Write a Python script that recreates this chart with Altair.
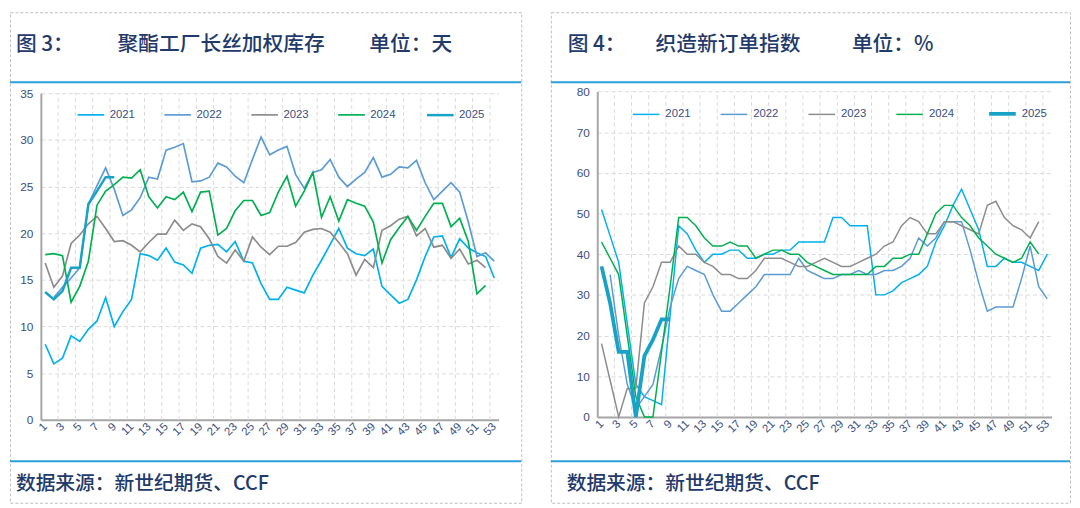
import altair as alt
import pandas as pd

weeks = list(range(1, 54))
years = ["2021", "2022", "2023", "2024", "2025"]
x_labels = list(range(1, 54, 2))

# 图3 聚酯工厂长丝加权库存（天）
inv_2021 = [8.1, 6.0, 6.6, 9.0, 8.4, 9.7, 10.6, 13.1, 10.0, 11.6,
            12.9, 17.8, 17.6, 17.1, 18.4, 16.9, 16.6, 15.7, 18.4, 18.7,
            18.8, 18.0, 19.1, 17.0, 16.8, 14.6, 12.9, 12.9, 14.2, 13.9,
            13.6, 15.5, 17.1, 18.8, 20.5, 18.4, 17.8, 17.6, 18.3, 14.3,
            13.4, 12.5, 12.9, 15.0, 17.5, 19.6, 19.7, 17.4, 19.4, 18.4,
            17.9, 17.5, 15.2]
inv_2022 = [None, 13.1, 14.2, 15.2, 16.3, 23.1, 25.1, 27.0, 24.7, 21.9,
            22.5, 23.8, 26.0, 25.8, 28.9, 29.2, 29.6, 25.5, 25.6, 26.0,
            27.5, 27.1, 26.1, 25.4, 27.9, 30.3, 28.4, 28.9, 29.3, 26.3,
            24.8, 26.5, 26.8, 27.9, 26.0, 25.0, 25.8, 26.5, 28.1, 26.0,
            26.3, 27.1, 27.0, 27.8, 25.4, 23.6, 24.5, 25.4, 24.4, 21.2,
            17.5, 17.9, 17.0]
inv_2023 = [16.8, 14.2, 15.4, 18.9, 19.8, 21.0, 21.8, 20.5, 19.1, 19.2,
            18.7, 18.0, 19.0, 19.9, 19.9, 21.4, 20.3, 21.0, 20.7, 19.4,
            17.5, 16.8, 18.2, 17.0, 19.6, 18.5, 17.7, 18.6, 18.6, 19.0,
            20.1, 20.4, 20.5, 20.1, 19.0, 17.8, 15.5, 17.2, 16.3, 20.3,
            20.8, 21.5, 21.8, 19.7, 20.5, 18.5, 18.7, 17.3, 18.3, 16.7,
            17.1, 16.3, None]
inv_2024 = [17.7, 17.8, 17.6, 12.6, 14.3, 17.0, 23.0, 24.5, 25.2, 26.0,
            25.9, 26.8, 23.9, 22.7, 23.9, 23.6, 24.4, 22.3, 24.4, 24.5,
            19.8, 20.5, 22.4, 23.5, 23.5, 21.9, 22.2, 24.4, 26.1, 22.9,
            24.5, 26.5, 21.7, 23.9, 21.3, 23.6, 23.2, 22.9, 21.2, 16.8,
            19.3, 20.6, 21.8, 20.3, 21.8, 23.2, 23.2, 20.7, 21.6, 19.1,
            13.5, 14.4, None]
inv_2025 = [13.7, 12.9, 13.8, 16.3, 16.3, 23.1, 24.5, 26.0, 26.0] + [None] * 44

# 图4 织造新订单指数（%）
ord_2021 = [51, 44.5, 38, 23, 8, 5, 4, 3, 25, 47,
            45, 41, 38, 40, 40, 41, 41, 39, 39, 40,
            40, 41, 41, 43, 43, 43, 43, 49, 49, 47,
            47, 47, 30, 30, 31, 33, 34, 35, 37, 43,
            47, 52, 56, 51, 46, 37, 37, 39, 38, 38,
            37, 36, 40]
ord_2022 = [None, 35, 20, 8, 2, 5, 8, 17, 27, 34,
            37, 36, 35, 30, 26, 26, 28, 30, 32, 35,
            35, 35, 35, 39, 36, 35, 34, 34, 35, 35,
            36, 35, 35, 36, 36, 37, 39, 44, 42, 44,
            48, 48, 48, 41, 33, 26, 27, 27, 27, 34,
            42, 32, 29]
ord_2023 = [18, 9, 0, 7, 7, 28, 32, 38, 38, 42,
            40, 40, 38, 37, 35, 35, 34, 34, 36, 39,
            39, 39, 38, 37, 37, 38, 39, 38, 37, 37,
            38, 39, 40, 42, 43, 47, 49, 48, 45, 45,
            48, 48, 47, 46, 45, 52, 53, 49, 47, 46,
            44, 48, None]
ord_2024 = [43, 39, 35, 20, 5, 0, 0, 16, 32, 49,
            49, 47, 44, 42, 42, 43, 42, 42, 39, 40,
            41, 41, 40, 40, 38, 37, 36, 35, 35, 35,
            35, 35, 37, 37, 39, 39, 40, 40, 45, 50,
            52, 52, 49, 47, 44, 42, 40, 39, 38, 39,
            43, 40, None]
ord_2025 = [37, 28, 16, 16, 0, 15, 19, 24, 24] + [None] * 44

inv_ticks = [0, 5, 10, 15, 20, 25, 30, 35]
ord_ticks = [0, 10, 20, 30, 40, 50, 60, 70, 80]

left_titles = ["图 3：", "聚酯工厂长丝加权库存", "单位：天"]
right_titles = ["图 4：", "织造新订单指数", "单位：%"]
source_text = "数据来源：新世纪期货、CCF"

colors = ["#00B0F0", "#5B9BD5", "#8C8C8C", "#00B050", "#17A2C6"]
NAVY = "#1F3A6B"
LABEL = "#3A4F80"
BLUE = "#2A9FD8"
CJK = "Noto Sans CJK SC"
NUM = "Liberation Sans Narrow, Liberation Sans, Arial"


def long_df(series):
    rows = []
    for yr, vals in zip(years, series):
        for w, v in zip(weeks, vals):
            if v is not None:
                rows.append({"week": w, "year": yr, "value": v})
    return pd.DataFrame(rows)


def panel(series, ymax, yticks, W, H, px0, px1, ptop, pbot, widths,
          leg_x, leg_y, col_pad, titles, title_xs, foot_x):
    df = long_df(series)
    xs = alt.Scale(domain=[0.5, 53.5], range=[px0, px1], nice=False, zero=False)
    ys = alt.Scale(domain=[0, ymax], range=[pbot, ptop], nice=False, zero=True)
    x_axis = alt.Axis(
        values=x_labels, labelAngle=315, labelAlign="right",
        labelBaseline="middle", grid=False, ticks=False,
        domainColor="#A6A6A6", domainWidth=2, labelColor=LABEL,
        labelFont=NUM, labelFontSize=11.5, labelPadding=5,
        labelOverlap=False, labelBound=False, offset=-(H - pbot), title=None)
    y_axis = alt.Axis(
        values=yticks, grid=True, gridDash=[4, 3], gridColor="#D9D9D9",
        ticks=False, domainColor="#A6A6A6", domainWidth=2,
        labelColor=LABEL, labelFont=NUM, labelFontSize=12,
        labelPadding=8, offset=-px0, title=None)
    grid_df = pd.DataFrame({"g": [w + 0.5 for w in weeks if w % 2 == 0],
                            "lo": 0, "hi": ymax})
    vgrid = alt.Chart(grid_df).mark_rule(
        color="#D9D9D9", strokeDash=[4, 3], strokeWidth=1
    ).encode(
        x=alt.X("g:Q", scale=xs, axis=x_axis),
        y=alt.Y("lo:Q", scale=ys, axis=y_axis),
        y2="hi:Q",
    )
    leg = alt.Legend(
        title=None, orient="none", legendX=leg_x, legendY=leg_y,
        direction="horizontal", columns=5, symbolType="stroke",
        symbolSize=729, labelFontSize=11.5, labelColor=LABEL, labelFont=NUM,
        labelOffset=4, columnPadding=col_pad, padding=0,
    )
    lines = alt.Chart(df).mark_line().encode(
        x=alt.X("week:Q", scale=xs, axis=x_axis),
        y=alt.Y("value:Q", scale=ys, axis=y_axis),
        color=alt.Color("year:N", scale=alt.Scale(type="ordinal", domain=years, range=colors), legend=leg),
        strokeWidth=alt.StrokeWidth("year:N", scale=alt.Scale(type="ordinal", domain=years, range=widths), legend=leg),
    )
    one = pd.DataFrame({"k": [0]})
    deco = []
    for s, tx in zip(titles, title_xs):
        deco.append(alt.Chart(one).mark_text(
            text=s, align="left", baseline="middle", fontSize=21, fontWeight=500,
            color=NAVY, font=CJK).encode(x=alt.value(tx), y=alt.value(33)))
    deco.append(alt.Chart(one).mark_text(
        text=source_text, align="left", baseline="middle", fontSize=20, fontWeight=500,
        color=NAVY, font=CJK).encode(x=alt.value(foot_x), y=alt.value(478)))
    for yy in (71, 455):
        deco.append(alt.Chart(one).mark_rule(color=BLUE, strokeWidth=2).encode(
            x=alt.value(0), x2=alt.value(W), y=alt.value(yy)))
    return alt.layer(vgrid, lines, *deco).properties(width=W, height=H)


left = panel([inv_2021, inv_2022, inv_2023, inv_2024, inv_2025], 35, inv_ticks,
             518, 497, 31.3, 495.0, 82, 413, [1.7, 1.7, 1.7, 1.7, 2.5],
             67, 89, 26, left_titles, [6, 109, 364], 6)
right = panel([ord_2021, ord_2022, ord_2023, ord_2024, ord_2025], 80, ord_ticks,
              526, 497, 47, 507.3, 80.3, 410, [1.5, 1.5, 1.5, 1.5, 3.8],
              81, 87, 27, right_titles, [17, 106, 305], 16)

chart = alt.hconcat(left, right, spacing=26).resolve_scale(
    color="independent", strokeWidth="independent", x="independent", y="independent"
).resolve_legend(color="independent", strokeWidth="independent").properties(
    padding=0
).configure_view(stroke="#BFBFBF", strokeDash=[3, 2], strokeWidth=1)

chart.save("out.html", embed_options={"renderer": "svg", "actions": False})
